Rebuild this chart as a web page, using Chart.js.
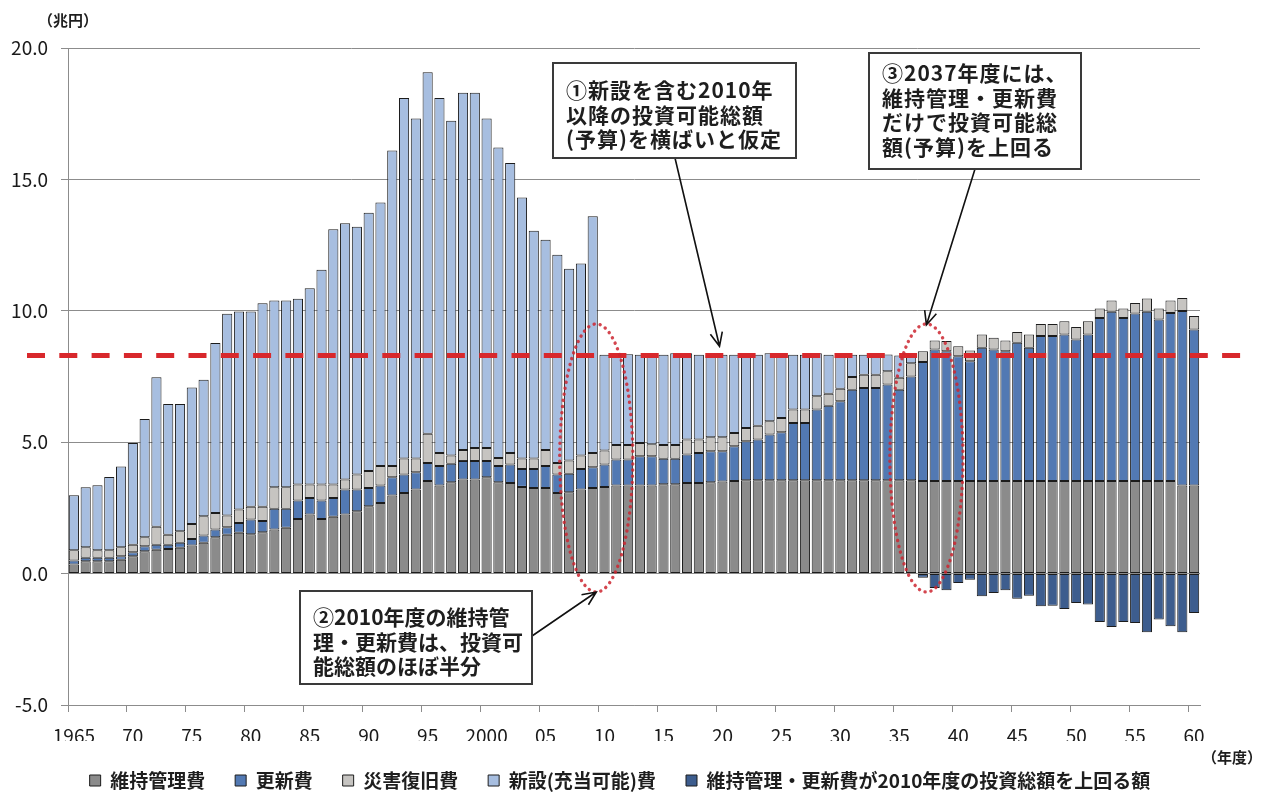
<!DOCTYPE html>
<html lang="ja">
<head>
<meta charset="utf-8">
<title>社会資本の維持管理・更新費の推計</title>
<script src="https://cdn.jsdelivr.net/npm/chart.js@4.4.1/dist/chart.umd.min.js"></script>
<style>
  html, body { margin: 0; padding: 0; background: #ffffff; }
  #wrap { position: relative; width: 1268px; height: 800px; }
</style>
</head>
<body>
<div id="wrap"><canvas id="chart" width="1268" height="800"></canvas></div>
<script>
const FONT = '"Noto Sans CJK JP", "Noto Sans", sans-serif';

// fiscal years 1965–2060
const firstYear = 1965;
const lastYear = 2060;
const years = [];
for (let yr = firstYear; yr <= lastYear; yr++) years.push(String(yr));

// labelled years on the horizontal axis
const tickYears = [1965, 1970, 1975, 1980, 1985, 1990, 1995, 2000, 2005, 2010,
                   2015, 2020, 2025, 2030, 2035, 2040, 2045, 2050, 2055, 2060];
const tickText  = ['1965', '70', '75', '80', '85', '90', '95', '2000', '05', '10',
                   '15', '20', '25', '30', '35', '40', '45', '50', '55', '60'];

// 兆円 per fiscal year
const maintenance = [
  0.35, 0.47, 0.47, 0.47, 0.53, 0.66, 0.85, 0.91, 0.94, 0.98,
  1.07, 1.17, 1.38, 1.48, 1.55, 1.50, 1.57, 1.68, 1.74, 2.08,
  2.25, 2.08, 2.16, 2.25, 2.37, 2.56, 2.69, 2.97, 3.07, 3.20,
  3.52, 3.35, 3.48, 3.58, 3.58, 3.67, 3.48, 3.45, 3.30, 3.26,
  3.26, 3.07, 3.10, 3.20, 3.26, 3.30, 3.35, 3.35, 3.35, 3.35,
  3.40, 3.40, 3.45, 3.45, 3.48, 3.50, 3.52, 3.55, 3.55, 3.55,
  3.55, 3.55, 3.55, 3.55, 3.55, 3.55, 3.55, 3.55, 3.55, 3.55,
  3.55, 3.55, 3.52, 3.52, 3.52, 3.52, 3.52, 3.52, 3.52, 3.52,
  3.52, 3.52, 3.52, 3.52, 3.52, 3.52, 3.52, 3.52, 3.52, 3.52,
  3.52, 3.52, 3.52, 3.52, 3.35, 3.35
];

const renewal = [
  0.15, 0.13, 0.13, 0.13, 0.13, 0.15, 0.19, 0.19, 0.16, 0.19,
  0.25, 0.28, 0.30, 0.28, 0.38, 0.56, 0.43, 0.79, 0.73, 0.70,
  0.63, 0.70, 0.72, 0.95, 0.83, 0.70, 0.66, 0.70, 0.70, 0.66,
  0.69, 0.74, 0.70, 0.70, 0.70, 0.61, 0.61, 0.70, 0.68, 0.72,
  0.83, 0.70, 0.70, 0.78, 0.79, 0.85, 0.99, 0.99, 1.12, 1.12,
  0.97, 0.97, 1.08, 1.14, 1.18, 1.16, 1.33, 1.49, 1.55, 1.74,
  1.83, 2.18, 2.18, 2.69, 2.84, 3.01, 3.45, 3.51, 3.51, 3.65,
  3.45, 3.95, 4.53, 5.01, 4.94, 4.75, 4.56, 5.07, 5.01, 4.94,
  5.26, 5.07, 5.52, 5.52, 5.58, 5.39, 5.58, 6.21, 6.44, 6.21,
  6.38, 6.44, 6.15, 6.40, 6.64, 5.94
];

const disaster = [
  0.39, 0.40, 0.29, 0.29, 0.34, 0.29, 0.34, 0.68, 0.38, 0.44,
  0.57, 0.73, 0.63, 0.45, 0.51, 0.48, 0.54, 0.82, 0.82, 0.61,
  0.51, 0.61, 0.51, 0.38, 0.57, 0.64, 0.74, 0.42, 0.61, 0.52,
  1.11, 0.50, 0.31, 0.42, 0.50, 0.50, 0.31, 0.44, 0.40, 0.40,
  0.61, 0.44, 0.50, 0.51, 0.54, 0.53, 0.55, 0.55, 0.50, 0.45,
  0.52, 0.52, 0.57, 0.51, 0.53, 0.53, 0.50, 0.50, 0.53, 0.51,
  0.54, 0.51, 0.51, 0.51, 0.45, 0.47, 0.48, 0.51, 0.51, 0.50,
  0.45, 0.50, 0.41, 0.34, 0.39, 0.38, 0.41, 0.51, 0.44, 0.41,
  0.41, 0.51, 0.46, 0.46, 0.50, 0.47, 0.50, 0.36, 0.43, 0.36,
  0.40, 0.51, 0.42, 0.47, 0.50, 0.51
];

const newBuild = [
  2.09, 2.29, 2.47, 2.79, 3.08, 3.87, 4.50, 5.69, 4.97, 4.84,
  5.19, 5.20, 6.46, 7.68, 7.53, 7.43, 7.75, 7.10, 7.10, 7.07,
  7.47, 8.17, 9.71, 9.75, 9.43, 9.83, 10.03, 12.01, 13.72, 12.94,
  13.76, 13.51, 12.74, 13.60, 13.52, 12.54, 11.81, 11.03, 9.93, 8.67,
  8.00, 7.92, 7.30, 7.31, 9.01, 3.65, 3.44, 3.46, 3.36, 3.41,
  3.44, 3.49, 3.28, 3.23, 3.14, 3.14, 2.98, 2.79, 2.70, 2.58,
  2.41, 2.09, 2.09, 1.63, 1.49, 1.30, 0.85, 0.76, 0.76, 0.64,
  0.85, 0.30, null, null, null, null, null, null, null, null,
  null, null, null, null, null, null, null, null, null, null,
  null, null, null, null, null, null
];

const excess = [
  null, null, null, null, null, null, null, null, null, null,
  null, null, null, null, null, null, null, null, null, null,
  null, null, null, null, null, null, null, null, null, null,
  null, null, null, null, null, null, null, null, null, null,
  null, null, null, null, null, null, null, null, null, null,
  null, null, null, null, null, null, null, null, null, null,
  null, null, null, null, null, null, null, null, null, null,
  null, null, -0.16, -0.55, -0.63, -0.36, -0.23, -0.86, -0.74, -0.63,
  -0.96, -0.84, -1.24, -1.22, -1.35, -1.12, -1.18, -1.84, -2.03, -1.84,
  -1.88, -2.23, -1.75, -2.00, -2.23, -1.50
];

// investment budget from 2010 on, held flat
const budget = 8.3;

const seriesNames = [
  '維持管理費',
  '更新費',
  '災害復旧費',
  '新設(充当可能)費',
  '維持管理・更新費が2010年度の投資総額を上回る額'
];
const seriesColors = ['#8b8b8b', '#5279b3', '#c6c4c1', '#a7bee0', '#3d5d8e'];
const seriesValues = [maintenance, renewal, disaster, newBuild, excess];

const datasets = seriesValues.map((vals, i) => ({
  label: seriesNames[i],
  data: vals,
  backgroundColor: seriesColors[i],
  borderColor: '#1c1c1c',
  borderWidth: 1,
  borderSkipped: false,
  stack: 'cost',
  barPercentage: 0.86,
  categoryPercentage: 1.0
}));

// callout texts
const notes = [
  { box: [553, 63, 243, 95], lines: ['①新設を含む2010年', '以降の投資可能総額', '(予算)を横ばいと仮定'], firstLine: 90, spacing: '1px' },
  { box: [300, 591, 232, 93], lines: ['②2010年度の維持管', '理・更新費は、投資可', '能総額のほぼ半分'], firstLine: 617, spacing: '0px' },
  { box: [869, 53, 212, 116], lines: ['③2037年度には、', '維持管理・更新費', 'だけで投資可能総', '額(予算)を上回る'], firstLine: 73, spacing: '1px' }
];

function arrow(ctx, x1, y1, x2, y2) {
  const ang = Math.atan2(y2 - y1, x2 - x1);
  const len = 15, spread = 0.42;
  ctx.beginPath();
  ctx.moveTo(x1, y1);
  ctx.lineTo(x2, y2);
  ctx.moveTo(x2 - len * Math.cos(ang - spread), y2 - len * Math.sin(ang - spread));
  ctx.lineTo(x2, y2);
  ctx.lineTo(x2 - len * Math.cos(ang + spread), y2 - len * Math.sin(ang + spread));
  ctx.stroke();
}

function dottedEllipse(ctx, cx, cy, rx, ry) {
  ctx.save();
  ctx.strokeStyle = 'rgba(205, 38, 48, 0.85)';
  ctx.lineWidth = 3.4;
  ctx.lineCap = 'round';
  ctx.setLineDash([0.1, 6]);
  ctx.beginPath();
  ctx.ellipse(cx, cy, rx, ry, 0, 0, Math.PI * 2);
  ctx.stroke();
  ctx.restore();
}

const overlay = {
  id: 'overlay',
  afterLayout(chart) {
    // centre the legend row under the whole figure rather than the plot
    if (chart.legend) {
      chart.legend.left += 20;
      chart.legend.right += 20;
    }
  },
  afterDatasetsDraw(chart) {
    const { ctx, scales: { x, y } } = chart;
    const x0 = x.getPixelForValue(0);
    const step = x.getPixelForValue(1) - x0;
    const xAt = yr => x0 + (yr - firstYear) * step;

    // flat budget line
    ctx.save();
    ctx.strokeStyle = '#d8282c';
    ctx.lineWidth = 5;
    ctx.setLineDash([18, 14.3]);
    const by = y.getPixelForValue(budget);
    ctx.beginPath();
    ctx.moveTo(27, by);
    ctx.lineTo(1241, by);
    ctx.stroke();
    ctx.restore();

    // highlighted years
    const topY = y.getPixelForValue(9.5), botY = y.getPixelForValue(-0.7);
    const e1 = { cx: xAt(2009.3), rx: 3.1 * step };
    const e2 = { cx: xAt(2037.3), rx: 3.1 * step };
    dottedEllipse(ctx, e1.cx, (topY + botY) / 2, e1.rx, (botY - topY) / 2);
    dottedEllipse(ctx, e2.cx, (topY + botY) / 2, e2.rx, (botY - topY) / 2);

    // callouts
    ctx.save();
    ctx.strokeStyle = '#111111';
    ctx.lineWidth = 1.6;
    arrow(ctx, 675, 158, xAt(2019.75), y.getPixelForValue(8.65));
    arrow(ctx, 975, 169, e2.cx, topY + 1);
    arrow(ctx, 532, 636, e1.cx, botY);
    ctx.restore();

    notes.forEach(n => {
      const [bx, byy, bw, bh] = n.box;
      ctx.save();
      ctx.fillStyle = '#ffffff';
      ctx.fillRect(bx, byy, bw, bh);
      ctx.strokeStyle = '#3a3a3a';
      ctx.lineWidth = 2;
      ctx.strokeRect(bx, byy, bw, bh);
      ctx.fillStyle = '#1e1e1e';
      ctx.font = 'bold 21px ' + FONT;
      if ('letterSpacing' in ctx) ctx.letterSpacing = n.spacing;
      ctx.textAlign = 'left';
      ctx.textBaseline = 'middle';
      n.lines.forEach((t, i) => ctx.fillText(t, bx + 13, n.firstLine + i * 24.6));
      ctx.restore();
    });
  },
  afterDraw(chart) {
    const { ctx } = chart;
    ctx.save();
    ctx.fillStyle = '#1e1e1e';
    ctx.font = 'bold 15px ' + FONT;
    ctx.textAlign = 'left';
    ctx.textBaseline = 'middle';
    ctx.fillText('（兆円）', 38, 20);
    ctx.fillText('（年度）', 1202, 757);
    ctx.restore();
  }
};

new Chart(document.getElementById('chart'), {
  type: 'bar',
  data: { labels: years, datasets },
  plugins: [overlay],
  options: {
    responsive: false,
    animation: false,
    events: [],
    layout: { padding: { left: 0, right: 68, top: 48, bottom: 0 } },
    plugins: {
      tooltip: { enabled: false },
      legend: {
        position: 'bottom',
        labels: {
          boxWidth: 11,
          boxHeight: 11,
          padding: 30,
          color: '#1e1e1e',
          font: { family: FONT, size: 19, weight: 'bold' }
        }
      }
    },
    scales: {
      x: {
        stacked: true,
        afterFit(scale) { scale.height = 36; },
        border: { display: true, color: '#8c8c8c', width: 1 },
        grid: {
          drawOnChartArea: false,
          drawTicks: true,
          tickLength: 7,
          color: ctx => (ctx.index % 5 === 0 ? '#8c8c8c' : 'rgba(0,0,0,0)')
        },
        ticks: {
          autoSkip: false,
          maxRotation: 0,
          minRotation: 0,
          padding: 12,
          color: '#1a1a1a',
          font: { family: FONT, size: 19 },
          callback(value, index) {
            const k = tickYears.indexOf(firstYear + index);
            return k >= 0 ? tickText[k] : '';
          }
        }
      },
      y: {
        stacked: true,
        min: -5,
        max: 20,
        afterFit(scale) { scale.width = 68; },
        border: { display: true, color: '#8c8c8c', width: 1 },
        grid: { color: '#8c8c8c', lineWidth: 1, tickLength: 7 },
        ticks: {
          stepSize: 5,
          padding: 13,
          color: '#1a1a1a',
          font: { family: FONT, size: 19 },
          callback: v => v.toFixed(1)
        }
      }
    }
  }
});
</script>
</body>
</html>
